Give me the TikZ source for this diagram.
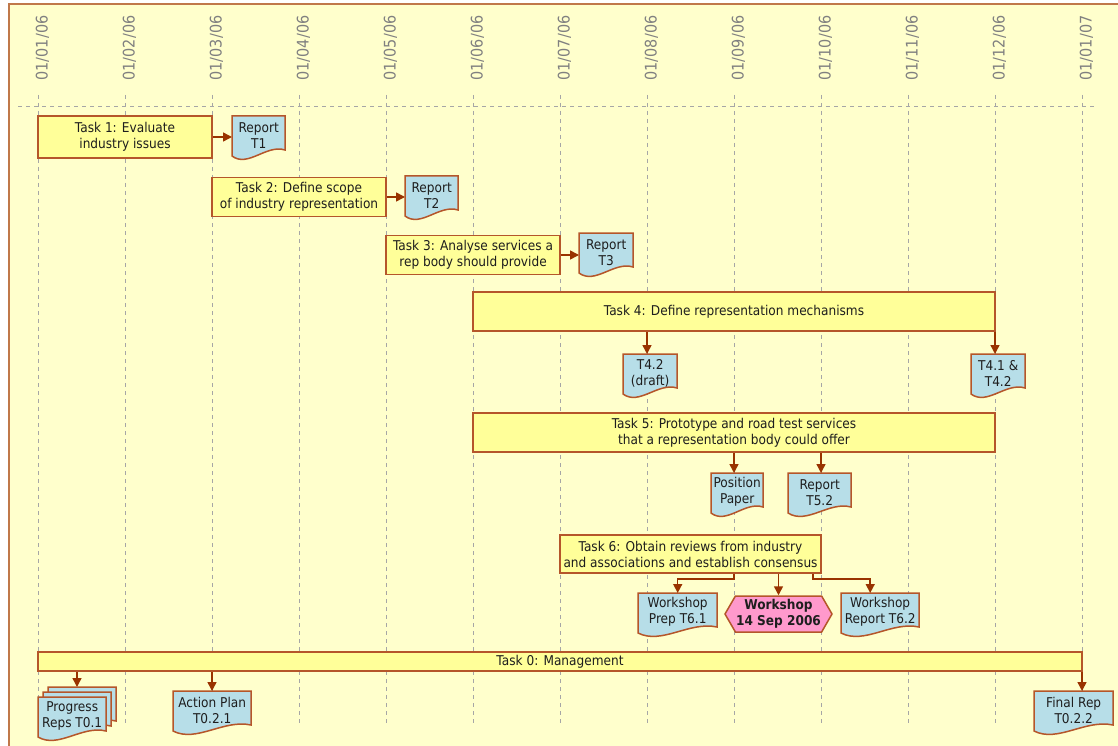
\documentclass[tikz,border=0pt]{standalone}
\usepackage{fontspec}
\setmainfont{DejaVu Sans}[FakeStretch=0.9]
\usetikzlibrary{arrows.meta,shapes.symbols}

\definecolor{pagefill}{HTML}{FFFFCC}
\definecolor{taskfill}{HTML}{FFFF99}
\definecolor{docfill}{HTML}{B7DEE8}
\definecolor{workfill}{HTML}{FF99CC}
\definecolor{edgecol}{HTML}{B5562A}
\definecolor{flowcol}{HTML}{993300}
\definecolor{framecol}{HTML}{C0784A}
\definecolor{gridcol}{HTML}{A6A6A6}
\definecolor{datecol}{HTML}{808080}
\definecolor{inkcol}{HTML}{1E1E1E}

\tikzset{
  task/.style={draw=edgecol, fill=taskfill, line width=1.5pt, align=center, inner sep=0pt, text=inkcol, font=\fontsize{13.5}{16}\selectfont},
  docline/.style={draw=edgecol, fill=docfill, line width=1.5pt},
  doc/.style={anchor=north west, minimum height=38pt, inner sep=0pt, align=center, text=inkcol, font=\fontsize{13.5}{16}\selectfont},
  workshop/.style={signal, signal to=west and east, signal pointer angle=120, draw=edgecol, fill=workfill, line width=1.5pt, minimum width=107pt, minimum height=36pt, inner sep=0pt, align=center, text=inkcol, font=\fontsize{13.5}{16}\selectfont\bfseries},
  datelbl/.style={rotate=90, inner sep=0pt, text=datecol, font=\fontsize{16}{16}\selectfont},
  flow/.style={draw=flowcol, line width=1.5pt, -{Triangle[width=9pt,length=9pt]}},
  gridline/.style={draw=gridcol, line width=1pt, dash pattern=on 4pt off 4pt},
}

% document sheet with a wavy lower edge
\newcommand{\docshape}[3]{%
  \filldraw[docline, shift={(#1,#2)}] (0,0) -- (#3,0) -- (#3,34)
    .. controls ({0.65*#3},28) and ({0.3*#3},52) .. (0,40) -- cycle;}
\newcommand{\docnode}[5]{%
  \docshape{#2}{#3}{#4}
  \node[doc, minimum width=#4pt] (#1) at (#2,#3) {#5};}

\begin{document}
\begin{tikzpicture}[x=1pt, y=-1pt]
\useasboundingbox (0,0) rectangle (1118,746);
\clip (0,0) rectangle (1118,746);
\fill[white] (0,0) rectangle (1118,746);
\filldraw[fill=pagefill, draw=framecol, line width=2pt] (9,4) rectangle (1140,770);

% time axis
\foreach \i in {0,...,12}
  \coordinate (m\i) at ({38+87*\i},95);
\foreach \i in {0,...,12}
  \draw[gridline] (m\i) -- ++(0,631);
\draw[gridline] (18,107) -- (1097,107);

\node[datelbl] (d0) at (42.5,48) {01/01/06};
\node[datelbl] (d1) at (129.5,48) {01/02/06};
\node[datelbl] (d2) at (216.5,48) {01/03/06};
\node[datelbl] (d3) at (303.5,48) {01/04/06};
\node[datelbl] (d4) at (390.5,48) {01/05/06};
\node[datelbl] (d5) at (477.5,48) {01/06/06};
\node[datelbl] (d6) at (564.5,48) {01/07/06};
\node[datelbl] (d7) at (651.5,48) {01/08/06};
\node[datelbl] (d8) at (738.5,48) {01/09/06};
\node[datelbl] (d9) at (825.5,48) {01/10/06};
\node[datelbl] (d10) at (912.5,48) {01/11/06};
\node[datelbl] (d11) at (999.5,48) {01/12/06};
\node[datelbl] (d12) at (1086.5,48) {01/01/07};

% tasks
\node[task, minimum width=174pt, minimum height=42pt] (task1) at (125,137) {Task 1: Evaluate\\industry issues};
\node[task, minimum width=174pt, minimum height=39pt] (task2) at (299,197) {Task 2: Define scope\\of industry representation};
\node[task, minimum width=174pt, minimum height=39pt] (task3) at (473,255) {Task 3: Analyse services a\\rep body should provide};
\node[task, minimum width=522pt, minimum height=39pt] (task4) at (734,311.5) {Task 4: Define representation mechanisms};
\node[task, minimum width=522pt, minimum height=39pt] (task5) at (734,432.5) {Task 5: Prototype and road test services\\that a representation body could offer};
\node[task, minimum width=261pt, minimum height=38pt] (task6) at (690.5,554) {Task 6: Obtain reviews from industry\\and associations and establish consensus};
\node[task, minimum width=1044pt, minimum height=19pt] (task0) at (560,661.5) {Task 0: Management};

% deliverables
\docnode{rep1}{232}{116}{53}{Report\\T1}
\docnode{rep2}{405}{176}{53}{Report\\T2}
\docnode{rep3}{579}{233}{54}{Report\\T3}
\docnode{t42}{623}{354}{54}{T4.2\\(draft)}
\docnode{t412}{971}{354}{54}{T4.1 \&\\T4.2}
\docnode{pospaper}{711}{473}{52}{Position\\Paper}
\docnode{rep52}{788}{473}{63}{Report\\T5.2}
\docnode{wprep}{638}{593}{79}{Workshop\\Prep T6.1}
\docnode{wrep}{841}{593}{78}{Workshop\\Report T6.2}
\node[workshop] (work) at (778.5,614) {Workshop\\14 Sep 2006};
\docshape{48}{687}{68}
\docshape{43}{692}{68}
\docnode{prog}{38}{697}{68}{Progress\\Reps T0.1}
\coordinate (progtop) at (77,687);
\docnode{action}{173}{691}{78}{Action Plan\\T0.2.1}
\docnode{final}{1034}{691}{79}{Final Rep\\T0.2.2}

% flows
\draw[flow] (task1.east) -- (task1.east -| rep1.west);
\draw[flow] (task2.east) -- (task2.east -| rep2.west);
\draw[flow] (task3.east) -- (task3.east -| rep3.west);
\draw[flow] (task4.south -| m7) -- (t42.north -| m7);
\draw[flow] (task4.south -| m11) -- (t412.north -| m11);
\draw[flow] (task5.south -| m8) -- (pospaper.north -| m8);
\draw[flow] (task5.south -| m9) -- (rep52.north -| m9);
\draw[flow] (task6.south -| m8) -- ++(0,5) -| (wprep.north);
\draw[flow] (task6.south -| work.north) -- (work.north);
\draw[flow] ([xshift=-9pt]task6.south east) -- ++(0,5) -| ([xshift=-10pt]wrep.north);
\draw[flow] (task0.south -| progtop) -- (progtop);
\draw[flow] (task0.south -| m2) -- (action.north -| m2);
\draw[flow] (task0.south -| m12) -- (final.north -| m12);
\end{tikzpicture}
\end{document}
